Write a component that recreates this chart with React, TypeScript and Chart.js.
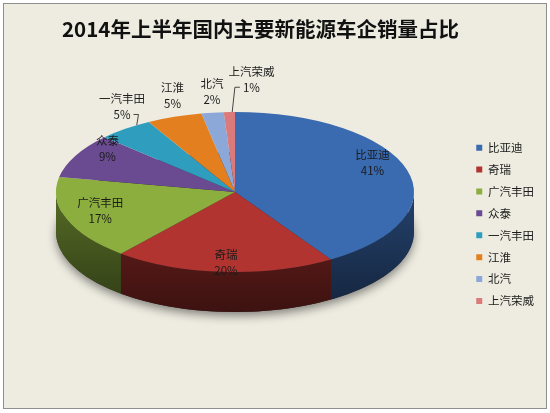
import { useEffect, useRef } from "react";
import { Chart, registerables } from "chart.js";

Chart.register(...registerables);

const chartTitle = "2014年上半年国内主要新能源车企销量占比";
const categories = ["比亚迪", "奇瑞", "广汽丰田", "众泰", "一汽丰田", "江淮", "北汽", "上汽荣威"];
const shares = [41, 20, 17, 9, 5, 5, 2, 1];
const sliceColors = ["#3A6BB0", "#B13430", "#8BAE3E", "#6A4A90", "#2F9EBE", "#E47F1F", "#8CA8D8", "#DB7A7A"];

const FONT = "'Noto Sans CJK SC', 'Noto Sans', sans-serif";

// where the tilted pie sits on the canvas
const CX = 231;
const CY = 188;
const RX = 179;
const RY = 80;
const DEPTH = 40;

function shade(hex: string, k: number) {
  const n = parseInt(hex.slice(1), 16);
  const r = Math.round(((n >> 16) & 255) * k);
  const g = Math.round(((n >> 8) & 255) * k);
  const b = Math.round((n & 255) * k);
  return `rgb(${r},${g},${b})`;
}

const pie3d = {
  id: "pie3d",
  beforeDatasetsDraw(chart: any) {
    const ctx: CanvasRenderingContext2D = chart.ctx;
    const arcs = chart.getDatasetMeta(0).data as any[];
    if (!arcs.length) return;
    const { x, y, outerRadius } = arcs[0];

    // soft shadow under the disc
    ctx.save();
    ctx.shadowColor = "rgba(0,0,0,0.45)";
    ctx.shadowBlur = 10;
    ctx.shadowOffsetY = 4;
    ctx.fillStyle = "#2a2a2a";
    ctx.beginPath();
    ctx.ellipse(CX, CY + DEPTH, RX, RY, 0, 0, Math.PI * 2);
    ctx.fill();
    ctx.restore();

    // front walls
    arcs.forEach((arc, i) => {
      const s = Math.max(arc.startAngle, 0);
      const e = Math.min(arc.endAngle, Math.PI);
      if (e <= s) return;
      const col = sliceColors[i];
      const g = ctx.createLinearGradient(0, CY, 0, CY + RY + DEPTH);
      g.addColorStop(0, shade(col, 0.62));
      g.addColorStop(1, shade(col, 0.34));
      ctx.beginPath();
      ctx.ellipse(CX, CY, RX, RY, 0, s, e);
      ctx.ellipse(CX, CY + DEPTH, RX, RY, 0, e, s, true);
      ctx.closePath();
      ctx.fillStyle = g;
      ctx.fill();
    });

    // squash the library's arcs into the top face
    ctx.save();
    ctx.translate(CX, CY);
    ctx.scale(RX / outerRadius, RY / outerRadius);
    ctx.translate(-x, -y);
  },
  afterDatasetsDraw(chart: any) {
    chart.ctx.restore();
  },
  afterDraw(chart: any) {
    const ctx: CanvasRenderingContext2D = chart.ctx;
    const arcs = chart.getDatasetMeta(0).data as any[];
    const total = shares.reduce((a, b) => a + b, 0);
    ctx.save();
    ctx.font = `11.5px ${FONT}`;
    ctx.textAlign = "center";
    ctx.textBaseline = "middle";
    ctx.fillStyle = "#1b1b1b";
    ctx.strokeStyle = "#444";
    ctx.lineWidth = 1;
    let prevRight: number | null = null;
    arcs.forEach((arc, i) => {
      const t = (arc.startAngle + arc.endAngle) / 2;
      const pct = shares[i] / total;
      const name = categories[i];
      const txt = Math.round(pct * 100) + "%";
      const w = Math.max(ctx.measureText(name).width, ctx.measureText(txt).width);
      let lx: number;
      let ly: number;
      if (pct >= 0.08) {
        lx = CX + 0.8 * RX * Math.cos(t);
        ly = CY + 0.98 * RY * Math.sin(t) - 8;
      } else {
        lx = CX + 1.03 * RX * Math.cos(t);
        ly = CY + 0.91 * RY * Math.sin(t) - 28;
        let shifted = false;
        if (prevRight !== null && lx - w / 2 < prevRight + 5) {
          lx = prevRight + 5 + w / 2;
          ly -= 12;
          shifted = true;
        }
        prevRight = lx + w / 2;
        if (shifted || Math.abs(Math.cos(t)) > 0.5) {
          const te = arc.startAngle + 0.75 * (arc.endAngle - arc.startAngle);
          const ex = CX + RX * Math.cos(te);
          const ey = CY + RY * Math.sin(te);
          const dir = ex > lx ? 1 : -1;
          const w2 = ctx.measureText(txt).width;
          const ax = lx + dir * (w2 / 2 + 3);
          const ay = ly + 8;
          ctx.beginPath();
          ctx.moveTo(ax, ay);
          ctx.lineTo(ax + dir * 5, ay);
          ctx.lineTo(ex, ey);
          ctx.stroke();
        }
      }
      ctx.fillText(name, lx, ly - 8);
      ctx.fillText(txt, lx, ly + 8);
    });
    ctx.restore();
  },
};

export default function App() {
  const canvasRef = useRef<HTMLCanvasElement | null>(null);
  const chartRef = useRef<Chart | null>(null);

  useEffect(() => {
    const canvas = canvasRef.current;
    if (!canvas) return;
    if (chartRef.current) chartRef.current.destroy();

    chartRef.current = new Chart(canvas, {
      type: "pie",
      data: {
        labels: categories,
        datasets: [
          {
            data: shares,
            backgroundColor: sliceColors,
            borderWidth: 0,
            clip: false,
          } as any,
        ],
      },
      options: {
        responsive: false,
        animation: false,
        events: [],
        layout: { padding: { left: 58, right: 2, top: 0, bottom: 11 } },
        plugins: {
          title: {
            display: true,
            text: chartTitle,
            align: "start",
            color: "#111",
            font: { family: FONT, size: 20.5, weight: "bold" },
            padding: { top: 13, bottom: 10 },
          },
          legend: {
            position: "right",
            fullSize: false,
            labels: {
              boxWidth: 6,
              boxHeight: 6,
              padding: 10.4,
              color: "#1b1b1b",
              font: { family: FONT, size: 11.5 },
            },
          },
          tooltip: { enabled: false },
        },
      },
      plugins: [pie3d],
    });

    return () => {
      if (chartRef.current) {
        chartRef.current.destroy();
        chartRef.current = null;
      }
    };
  }, []);

  return (
    <div style={{ position: "absolute", left: 0, top: 0, width: 550, height: 413, background: "#fff" }}>
      <div
        style={{
          position: "absolute",
          left: 3,
          top: 3,
          width: 542,
          height: 404,
          border: "1px solid #8e8e8e",
          background: "#EEECE1",
        }}
      >
        <canvas ref={canvasRef} width={542} height={404} style={{ display: "block" }} />
      </div>
    </div>
  );
}
